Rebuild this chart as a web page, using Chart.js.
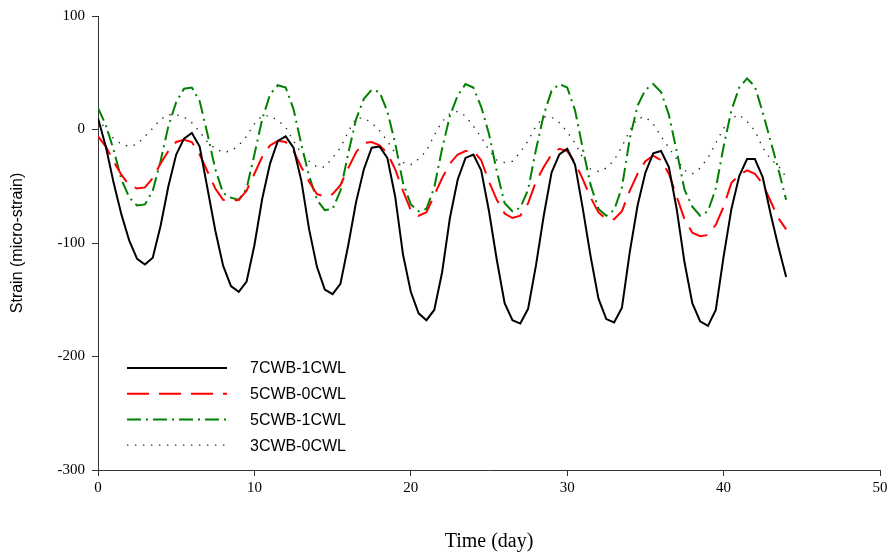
<!DOCTYPE html>
<html>
<head>
<meta charset="utf-8">
<script src="https://cdn.jsdelivr.net/npm/chart.js@4.4.1/dist/chart.umd.min.js"></script>
<style>
  html, body { margin: 0; padding: 0; background: #fff; }
  #wrap { width: 891px; height: 554px; position: relative; }
</style>
</head>
<body>
<div id="wrap"><canvas id="strainChart"></canvas></div>
<script>
// time axis (day), read every half day off the plot
const days = [0,0.5,1,1.5,2,2.5,3,3.5,4,4.5,5,5.5,6,6.5,7,7.5,8,8.5,9,9.5,
  10,10.5,11,11.5,12,12.5,13,13.5,14,14.5,15,15.5,16,16.5,17,17.5,18,18.5,19,19.5,
  20,20.5,21,21.5,22,22.5,23,23.5,24,24.5,25,25.5,26,26.5,27,27.5,28,28.5,29,29.5,
  30,30.5,31,31.5,32,32.5,33,33.5,34,34.5,35,35.5,36,36.5,37,37.5,38,38.5,39,39.5,
  40,40.5,41,41.5,42,42.5,43,43.5,44];

const cwb7cwl1 = [10,-15,-47,-75,-98,-114,-119,-113,-85,-50,
  -22,-8,-3,-15,-52,-89,-120,-138,-143,-134,
  -102,-61,-30,-10,-6,-16,-45,-88,-121,-141,
  -145,-136,-102,-64,-35,-16,-15,-25,-59,-110,
  -143,-162,-168,-159,-126,-78,-44,-25,-22,-36,
  -72,-115,-153,-168,-171,-158,-120,-76,-38,-22,
  -17,-31,-70,-112,-149,-167,-170,-157,-108,-67,
  -38,-21,-19,-33,-70,-117,-153,-169,-173,-159,
  -112,-70,-41,-26,-26,-42,-74,-103,-130];

const cwb5cwl0 = [-6,-15,-28,-40,-49,-52,-51,-43,-30,-19,
  -11,-9,-11,-22,-37,-52,-62,-63,-62,-54,
  -39,-24,-14,-10,-11,-19,-33,-46,-57,-59,
  -57,-49,-34,-20,-12,-11,-14,-21,-35,-54,
  -71,-76,-73,-58,-43,-30,-22,-19,-19,-27,
  -46,-62,-74,-78,-76,-65,-46,-33,-22,-17,
  -19,-29,-44,-60,-73,-79,-79,-72,-54,-39,
  -28,-23,-27,-39,-59,-79,-91,-94,-93,-84,
  -68,-47,-40,-36,-39,-48,-63,-78,-88];

const cwb5cwl1 = [19,4,-18,-44,-60,-67,-66,-54,-28,3,
  24,36,37,25,-4,-35,-56,-60,-62,-52,
  -22,9,31,39,37,18,-13,-41,-62,-71,
  -70,-54,-21,9,27,35,33,16,-12,-47,
  -66,-72,-70,-51,-17,12,30,40,37,20,
  -4,-37,-65,-72,-69,-53,-18,13,34,40,
  37,17,-17,-49,-70,-76,-71,-51,-8,21,
  35,40,33,13,-19,-53,-68,-76,-72,-52,
  -15,17,37,45,38,15,-10,-35,-62];

const cwb3cwl0 = [10,0,-8,-13,-15,-13,-6,1,9,13,
  13,11,6,-2,-11,-17,-20,-19,-14,-6,
  5,12,12,8,2,-10,-21,-28,-33,-33,
  -25,-16,-2,10,10,6,-1,-10,-21,-29,
  -31,-26,-19,-5,7,14,16,12,3,-7,
  -18,-27,-29,-28,-20,-10,3,11,11,6,
  -2,-12,-25,-35,-37,-34,-27,-15,-1,10,
  11,5,-6,-16,-26,-36,-39,-34,-25,-12,
  1,10,13,7,-1,-16,-26,-32,-42];

const seriesNames = ['7CWB-1CWL', '5CWB-0CWL', '5CWB-1CWL', '3CWB-0CWL'];
const xTicks = [0, 10, 20, 30, 40, 50];
const yTicks = [-300, -200, -100, 0, 100];

const serif = "'Times New Roman', 'Liberation Serif', serif";
const sans = "Arial, 'Liberation Sans', sans-serif";
const axisColor = '#333';

function toPoints(vals) {
  return vals.map((v, i) => ({ x: days[i], y: v }));
}

// legend sits inside the plot, lower left, so draw it by hand
const insideLegend = {
  id: 'insideLegend',
  afterDatasetsDraw(chart) {
    const ctx = chart.ctx;
    ctx.save();
    chart.data.datasets.forEach((ds, i) => {
      const y = 368 + i * 25.7;
      ctx.beginPath();
      ctx.strokeStyle = ds.borderColor;
      ctx.lineWidth = ds.borderWidth;
      ctx.setLineDash(ds.borderDash || []);
      ctx.moveTo(127, y);
      ctx.lineTo(227, y);
      ctx.stroke();
      ctx.setLineDash([]);
      ctx.fillStyle = '#000';
      ctx.font = '16px ' + sans;
      ctx.textBaseline = 'middle';
      ctx.textAlign = 'left';
      ctx.fillText(ds.label, 250, y + 1);
    });
    ctx.restore();
  }
};

const chart = new Chart(document.getElementById('strainChart'), {
  type: 'line',
  data: {
    datasets: [
      { label: seriesNames[0], data: toPoints(cwb7cwl1), borderColor: '#000000', borderWidth: 2 },
      { label: seriesNames[1], data: toPoints(cwb5cwl0), borderColor: '#ff0000', borderWidth: 2, borderDash: [22, 10] },
      { label: seriesNames[2], data: toPoints(cwb5cwl1), borderColor: '#008000', borderWidth: 2, borderDash: [14, 5, 2, 5] },
      { label: seriesNames[3], data: toPoints(cwb3cwl0), borderColor: '#2a2a2a', borderWidth: 1.4, borderDash: [1.4, 6.6] }
    ]
  },
  options: {
    responsive: true,
    maintainAspectRatio: false,
    animation: false,
    elements: { point: { radius: 0 }, line: { tension: 0 } },
    layout: { padding: { top: 16, right: 11, left: 0, bottom: 0 } },
    plugins: { legend: { display: false }, tooltip: { enabled: false } },
    scales: {
      x: {
        type: 'linear',
        min: 0, max: 50,
        afterFit(scale) { scale.height = 84; },
        afterBuildTicks(scale) { scale.ticks = xTicks.map(v => ({ value: v })); },
        grid: { drawOnChartArea: false, drawTicks: true, tickLength: 6, color: axisColor },
        border: { display: true, color: axisColor, width: 1 },
        ticks: { color: '#000', padding: 3, maxRotation: 0, font: { family: serif, size: 15 } },
        title: { display: true, text: 'Time (day)', color: '#000', padding: { top: 0, bottom: 0 }, font: { family: serif, size: 20 } }
      },
      y: {
        min: -300, max: 100,
        afterFit(scale) { scale.width = 98; },
        afterBuildTicks(scale) { scale.ticks = yTicks.map(v => ({ value: v })); },
        grid: { drawOnChartArea: false, drawTicks: true, tickLength: 6, color: axisColor },
        border: { display: true, color: axisColor, width: 1 },
        ticks: { color: '#000', padding: 7, font: { family: serif, size: 15 } },
        title: { display: true, text: 'Strain (micro-strain)', color: '#000', padding: { top: 8, bottom: 0 }, font: { family: sans, size: 16 } }
      }
    }
  },
  plugins: [insideLegend]
});
</script>
</body>
</html>
